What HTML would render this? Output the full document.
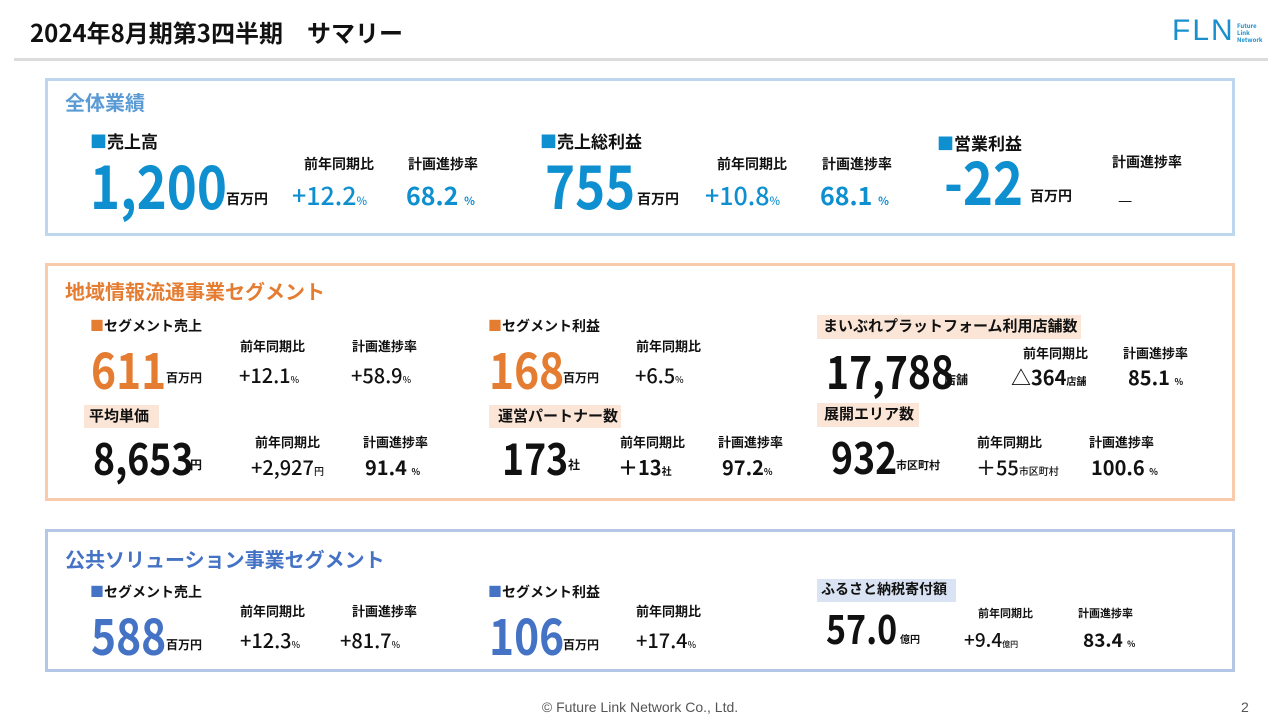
<!DOCTYPE html>
<html><head><meta charset="utf-8"><style>
body{margin:0;width:1280px;height:720px;background:#fff;position:relative;overflow:hidden;font-family:"Liberation Sans","Noto Sans CJK JP",sans-serif;}
.t{position:absolute;line-height:1;font-weight:bold;white-space:nowrap;font-family:"Noto Sans CJK JP","Liberation Sans",sans-serif;color:#111;}
.n{transform:scaleX(0.85);transform-origin:left top;}
.box{position:absolute;box-sizing:border-box;border:3px solid;}
.bg{position:absolute;}
.b{color:#0e8fd0}.o{color:#e47d32}.d{color:#4472c4}
s{text-decoration:none;font-size:0.45em}
</style></head><body>
<div class="t" style="left:30px;top:20px;font-size:24px;">2024年8月期第3四半期　サマリー</div>
<div style="position:absolute;left:14px;top:58px;width:1254px;height:3px;background:#dcdcdc"></div>
<div class="t" style="left:1172px;top:16px;font-size:30px;font-weight:normal;color:#1a8fce;letter-spacing:2px;font-family:'Liberation Sans',sans-serif">FLN</div>
<div class="t" style="left:1237px;top:22px;font-size:6px;color:#1a8fce;line-height:7px">Future<br>Link<br>Network</div>

<div class="box" style="left:45px;top:78px;width:1190px;height:158px;border-color:#bdd7ee"></div>
<div class="t" style="left:65px;top:92px;font-size:20px;color:#5b9bd5">全体業績</div>
<div class="t" style="left:90px;top:132px;font-size:17px"><span class="b">■</span>売上高</div>
<div class="t b n" style="left:90px;top:154px;font-size:60px">1,200</div>
<div class="t" style="left:226px;top:192px;font-size:14px">百万円</div>
<div class="t" style="left:304px;top:157px;font-size:14px">前年同期比</div>
<div class="t b" style="left:292px;top:183px;font-size:25px;font-weight:500">+12.2<s>%</s></div>
<div class="t" style="left:408px;top:157px;font-size:14px">計画進捗率</div>
<div class="t b" style="left:406px;top:183px;font-size:25px">68.2 <s>%</s></div>
<div class="t" style="left:540px;top:132px;font-size:17px"><span class="b">■</span>売上総利益</div>
<div class="t b n" style="left:545px;top:154px;font-size:60px">755</div>
<div class="t" style="left:637px;top:192px;font-size:14px">百万円</div>
<div class="t" style="left:717px;top:157px;font-size:14px">前年同期比</div>
<div class="t b" style="left:705px;top:183px;font-size:25px;font-weight:500">+10.8<s>%</s></div>
<div class="t" style="left:822px;top:157px;font-size:14px">計画進捗率</div>
<div class="t b" style="left:820px;top:183px;font-size:25px">68.1 <s>%</s></div>
<div class="t" style="left:937px;top:134px;font-size:17px"><span class="b">■</span>営業利益</div>
<div class="t b n" style="left:944px;top:150px;font-size:60px">-22</div>
<div class="t" style="left:1030px;top:189px;font-size:14px">百万円</div>
<div class="t" style="left:1112px;top:155px;font-size:14px">計画進捗率</div>
<div class="t" style="left:1118px;top:191px;font-size:16px;font-weight:normal">—</div>

<div class="box" style="left:45px;top:263px;width:1190px;height:238px;border-color:#f8cbad"></div>
<div class="t o" style="left:65px;top:281px;font-size:20px">地域情報流通事業セグメント</div>
<div class="t" style="left:90px;top:319px;font-size:14px"><span class="o">■</span>セグメント売上</div>
<div class="t o n" style="left:91px;top:343px;font-size:50px">611</div>
<div class="t" style="left:166px;top:372px;font-size:12px">百万円</div>
<div class="t" style="left:240px;top:339px;font-size:13px">前年同期比</div>
<div class="t" style="left:239px;top:365px;font-size:20px;font-weight:500">+12.1<s>%</s></div>
<div class="t" style="left:352px;top:339px;font-size:13px">計画進捗率</div>
<div class="t" style="left:351px;top:365px;font-size:20px;font-weight:500">+58.9<s>%</s></div>
<div class="t" style="left:488px;top:319px;font-size:14px"><span class="o">■</span>セグメント利益</div>
<div class="t o n" style="left:489px;top:343px;font-size:50px">168</div>
<div class="t" style="left:563px;top:372px;font-size:12px">百万円</div>
<div class="t" style="left:636px;top:339px;font-size:13px">前年同期比</div>
<div class="t" style="left:635px;top:365px;font-size:20px;font-weight:500">+6.5<s>%</s></div>
<div class="bg" style="left:817px;top:315px;width:264px;height:24px;background:#fbe5d6"></div>
<div class="t" style="left:823px;top:318px;font-size:15px">まいぶれプラットフォーム利用店舗数</div>
<div class="t n" style="left:826px;top:347px;font-size:46px">17,788</div>
<div class="t" style="left:944px;top:374px;font-size:12px">店舗</div>
<div class="t" style="left:1023px;top:346px;font-size:13px">前年同期比</div>
<div class="t" style="left:1011px;top:367px;font-size:20px">△364<span style="font-size:10px">店舗</span></div>
<div class="t" style="left:1123px;top:346px;font-size:13px">計画進捗率</div>
<div class="t" style="left:1128px;top:367px;font-size:20px">85.1 <s>%</s></div>

<div class="bg" style="left:84px;top:405px;width:75px;height:23px;background:#fbe5d6"></div>
<div class="t" style="left:89px;top:408px;font-size:15px">平均単価</div>
<div class="t n" style="left:93px;top:434px;font-size:44px">8,653</div>
<div class="t" style="left:190px;top:459px;font-size:12px">円</div>
<div class="t" style="left:255px;top:435px;font-size:13px">前年同期比</div>
<div class="t" style="left:251px;top:457px;font-size:20px;font-weight:500">+2,927<span style="font-size:10px">円</span></div>
<div class="t" style="left:363px;top:435px;font-size:13px">計画進捗率</div>
<div class="t" style="left:365px;top:457px;font-size:20px">91.4 <s>%</s></div>
<div class="bg" style="left:489px;top:405px;width:132px;height:23px;background:#fbe5d6"></div>
<div class="t" style="left:498px;top:408px;font-size:15px">運営パートナー数</div>
<div class="t n" style="left:502px;top:434px;font-size:44px">173</div>
<div class="t" style="left:568px;top:459px;font-size:12px">社</div>
<div class="t" style="left:620px;top:435px;font-size:13px">前年同期比</div>
<div class="t" style="left:618px;top:457px;font-size:20px">＋13<span style="font-size:10px">社</span></div>
<div class="t" style="left:718px;top:435px;font-size:13px">計画進捗率</div>
<div class="t" style="left:722px;top:457px;font-size:20px">97.2<s>%</s></div>
<div class="bg" style="left:817px;top:403px;width:102px;height:24px;background:#fbe5d6"></div>
<div class="t" style="left:824px;top:406px;font-size:15px">展開エリア数</div>
<div class="t n" style="left:831px;top:433px;font-size:44px">932</div>
<div class="t" style="left:896px;top:460px;font-size:11px">市区町村</div>
<div class="t" style="left:977px;top:435px;font-size:13px">前年同期比</div>
<div class="t" style="left:976px;top:457px;font-size:20px;font-weight:500">＋55<span style="font-size:10px">市区町村</span></div>
<div class="t" style="left:1089px;top:435px;font-size:13px">計画進捗率</div>
<div class="t" style="left:1091px;top:457px;font-size:20px">100.6 <s>%</s></div>

<div class="box" style="left:45px;top:529px;width:1190px;height:143px;border-color:#b4c7e7"></div>
<div class="t d" style="left:65px;top:549px;font-size:20px">公共ソリューション事業セグメント</div>
<div class="t" style="left:90px;top:585px;font-size:14px"><span class="d">■</span>セグメント売上</div>
<div class="t d n" style="left:91px;top:609px;font-size:50px">588</div>
<div class="t" style="left:166px;top:639px;font-size:12px">百万円</div>
<div class="t" style="left:240px;top:604px;font-size:13px">前年同期比</div>
<div class="t" style="left:240px;top:630px;font-size:20px;font-weight:500">+12.3<s>%</s></div>
<div class="t" style="left:352px;top:604px;font-size:13px">計画進捗率</div>
<div class="t" style="left:340px;top:630px;font-size:20px;font-weight:500">+81.7<s>%</s></div>
<div class="t" style="left:488px;top:585px;font-size:14px"><span class="d">■</span>セグメント利益</div>
<div class="t d n" style="left:489px;top:609px;font-size:50px">106</div>
<div class="t" style="left:563px;top:639px;font-size:12px">百万円</div>
<div class="t" style="left:636px;top:604px;font-size:13px">前年同期比</div>
<div class="t" style="left:636px;top:630px;font-size:20px;font-weight:500">+17.4<s>%</s></div>
<div class="bg" style="left:817px;top:579px;width:139px;height:23px;background:#dae3f3"></div>
<div class="t" style="left:821px;top:582px;font-size:14px">ふるさと納税寄付額</div>
<div class="t n" style="left:826px;top:607px;font-size:40px">57.0</div>
<div class="t" style="left:900px;top:634px;font-size:10px">億円</div>
<div class="t" style="left:978px;top:608px;font-size:11px">前年同期比</div>
<div class="t" style="left:964px;top:630px;font-size:19px;font-weight:500">+9.4<span style="font-size:8px">億円</span></div>
<div class="t" style="left:1078px;top:608px;font-size:11px">計画進捗率</div>
<div class="t" style="left:1083px;top:630px;font-size:19px">83.4 <s>%</s></div>

<div class="t" style="left:0;width:1280px;text-align:center;top:700px;font-size:14px;font-weight:normal;color:#555;font-family:'Liberation Sans',sans-serif">© Future Link Network Co., Ltd.</div>
<div class="t" style="left:1241px;top:700px;font-size:14px;font-weight:normal;color:#555;font-family:'Liberation Sans',sans-serif">2</div>
</body></html>
